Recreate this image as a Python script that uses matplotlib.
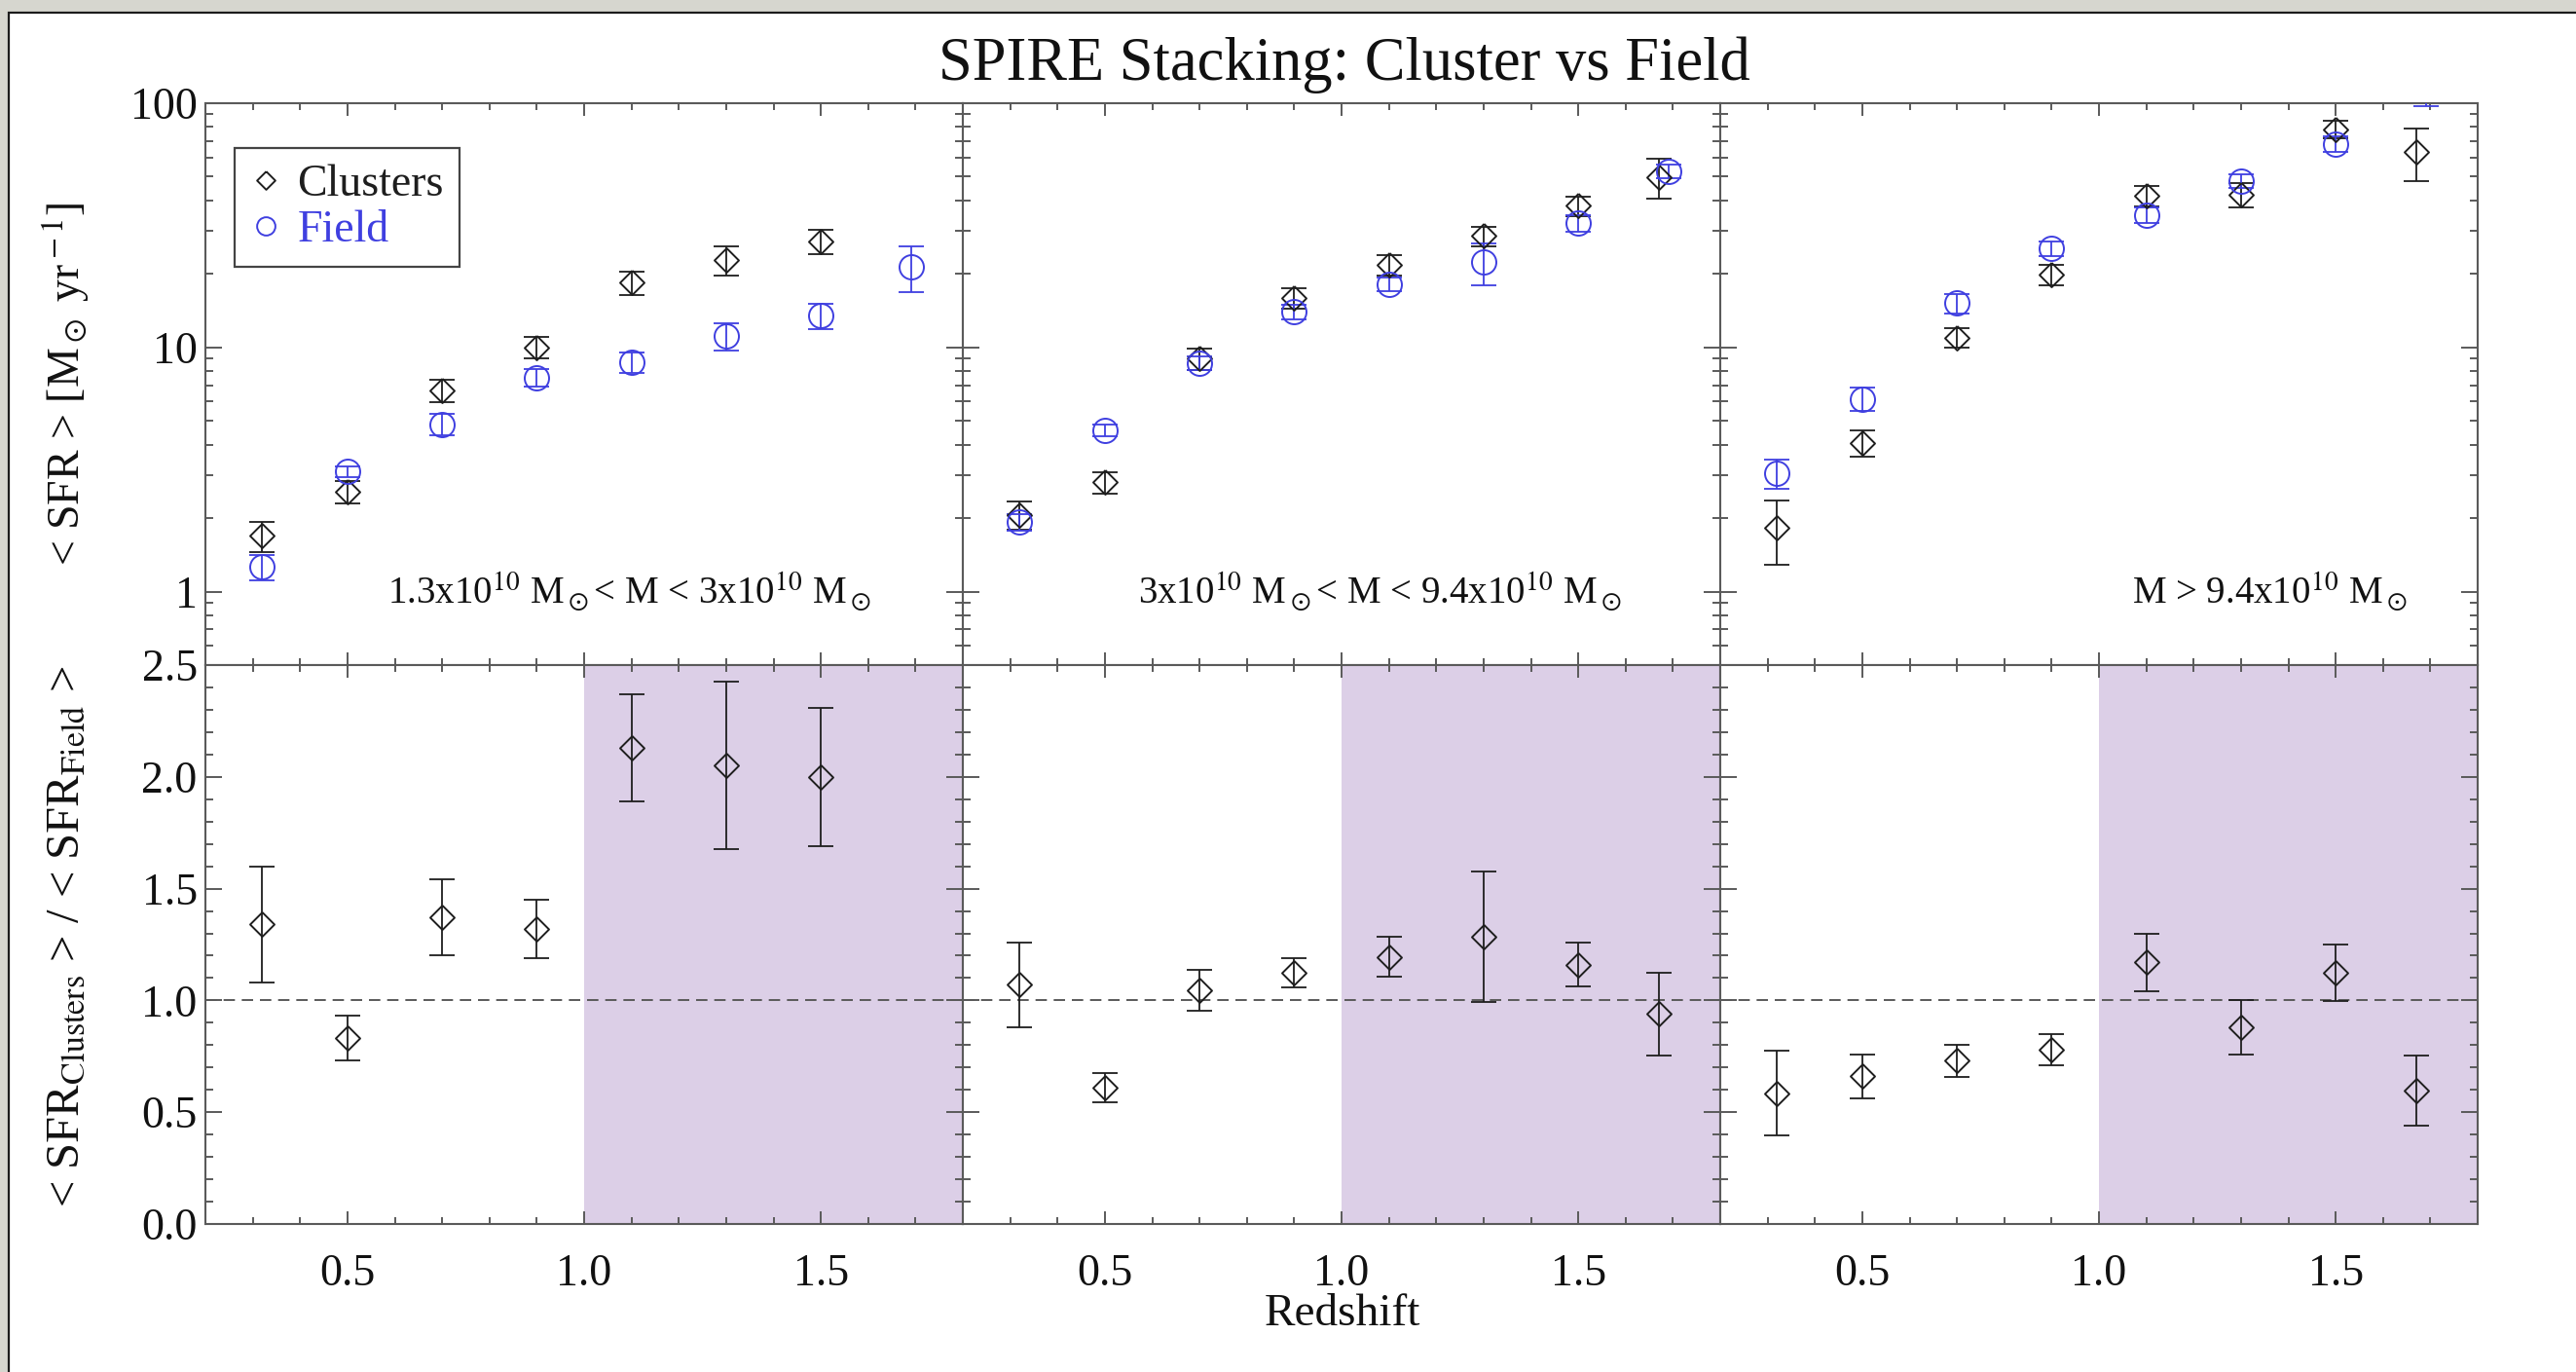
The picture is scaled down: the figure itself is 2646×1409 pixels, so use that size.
import numpy as np
import matplotlib
matplotlib.use("Agg")
import matplotlib.pyplot as plt
from matplotlib.patches import Rectangle
from matplotlib.ticker import FixedLocator, FixedFormatter, MultipleLocator, FormatStrFormatter, NullFormatter

plt.rcParams['font.family'] = ['Liberation Serif', 'DejaVu Serif']
plt.rcParams['mathtext.fontset'] = 'stix'

nan = float('nan')

# ---------------- data ----------------
z_clusters = [0.32, 0.50, 0.70, 0.90, 1.10, 1.30, 1.50, 1.67]
z_field = [0.32, 0.50, 0.70, 0.90, 1.10, 1.30, 1.50, 1.69]

mass_bins = [r'1.3x10$^{10}$ M$_\odot$< M < 3x10$^{10}$ M$_\odot$',
             r'3x10$^{10}$ M$_\odot$< M < 9.4x10$^{10}$ M$_\odot$',
             r'M > 9.4x10$^{10}$ M$_\odot$']

sfr_clusters_low = [1.69, 2.57, 6.66, 10.0, 18.4, 22.8, 27.2, nan]
err_clusters_low = [0.24, 0.27, 0.70, 1.0, 2.0, 3.2, 3.0, nan]
sfr_field_low = [1.26, 3.10, 4.85, 7.54, 8.71, 11.1, 13.5, 21.4]
err_field_low = [0.15, 0.16, 0.47, 0.60, 0.85, 1.4, 1.6, 4.6]

sfr_clusters_mid = [2.06, 2.80, 9.0, 15.9, 21.8, 28.6, 38.0, 49.9]
err_clusters_mid = [0.27, 0.29, 0.9, 1.5, 2.1, 2.6, 3.5, 9.1]
sfr_field_mid = [1.92, 4.57, 8.6, 14.0, 18.2, 22.3, 32.2, 52.6]
err_field_mid = [0.15, 0.24, 0.55, 1.0, 1.15, 4.4, 2.5, 3.5]

sfr_clusters_high = [1.82, 4.06, 10.96, 19.9, 41.8, 42.2, 78.4, 63.4]
err_clusters_high = [0.53, 0.50, 1.0, 1.9, 4.0, 4.9, 6.6, 15.4]
sfr_field_high = [3.06, 6.16, 15.2, 25.5, 34.8, 48.1, 68.1, 118.0]
err_field_high = [0.42, 0.67, 1.4, 1.75, 2.5, 3.0, 4.9, 21.0]

ratio_low = [1.34, 0.83, 1.37, 1.32, 2.13, 2.05, 2.00, nan]
ratio_err_low = [0.26, 0.10, 0.17, 0.13, 0.24, 0.375, 0.31, nan]
ratio_mid = [1.07, 0.61, 1.045, 1.125, 1.195, 1.285, 1.16, 0.94]
ratio_err_mid = [0.19, 0.067, 0.09, 0.065, 0.088, 0.29, 0.098, 0.185]
ratio_high = [0.585, 0.66, 0.73, 0.78, 1.17, 0.88, 1.125, 0.595]
ratio_err_high = [0.19, 0.10, 0.073, 0.071, 0.129, 0.12, 0.127, 0.157]

top_yticks = [1, 10, 100]
top_yticklabels = ['1', '10', '100']
bottom_yticks = [0.0, 0.5, 1.0, 1.5, 2.0, 2.5]
x_ticks = [0.5, 1.0, 1.5]

clusters_sfr = [sfr_clusters_low, sfr_clusters_mid, sfr_clusters_high]
clusters_err = [err_clusters_low, err_clusters_mid, err_clusters_high]
field_sfr = [sfr_field_low, sfr_field_mid, sfr_field_high]
field_err = [err_field_low, err_field_mid, err_field_high]
ratios = [ratio_low, ratio_mid, ratio_high]
ratio_errs = [ratio_err_low, ratio_err_mid, ratio_err_high]

# ---------------- style ----------------
W, H = 2646, 1409
fig = plt.figure(figsize=(W / 100, H / 100), dpi=100)
fig.patch.set_facecolor('#d6d6cf')
fig.patches.append(Rectangle((9 / W, -0.02), 1.05, 1 - 13 / H + 0.02, transform=fig.transFigure,
                             facecolor='white', edgecolor='#1c1c1c', lw=1.6, zorder=-10))

BLACK = '#1e1e1e'
BLUE = '#3f3fe0'
SPINE = '#5a5a5a'
SHADE = '#dccfe7'
diamond = [(0, 1), (1, 0), (0, -1), (-1, 0), (0, 1)]

x0, x1 = 211, 2545
pw = (x1 - x0) / 3
top_t, mid_y, bot_b = 106, 683, 1257

def style_axis(ax):
    for s in ax.spines.values():
        s.set_color(SPINE)
        s.set_linewidth(1.5)
    ax.tick_params(which='both', direction='in', top=True, right=True, color=SPINE, width=1.4,
                   labelsize=33, labelcolor='#111111')
    ax.set_xlim(0.2, 1.8)
    ax.xaxis.set_major_locator(FixedLocator(x_ticks))
    ax.xaxis.set_minor_locator(MultipleLocator(0.1))

for i in range(3):
    left = (x0 + i * pw) / W
    axt = fig.add_axes([left, 1 - mid_y / H, pw / W, (mid_y - top_t) / H])
    axb = fig.add_axes([left, 1 - bot_b / H, pw / W, (bot_b - mid_y) / H])

    # ---- top: SFR vs redshift ----
    style_axis(axt)
    axt.set_yscale('log')
    axt.set_ylim(0.5, 100)
    axt.yaxis.set_major_locator(FixedLocator(top_yticks))
    axt.tick_params(axis='y', which='major', length=12)
    axt.tick_params(axis='y', which='minor', length=6)
    axt.tick_params(axis='x', which='major', length=9.5)
    axt.tick_params(axis='x', which='minor', length=5)
    axt.xaxis.set_major_formatter(NullFormatter())
    if i == 0:
        axt.yaxis.set_major_formatter(FixedFormatter(top_yticklabels))
        axt.tick_params(axis='y', which='major', pad=6)
    else:
        axt.yaxis.set_major_formatter(NullFormatter())
    axt.yaxis.set_minor_formatter(NullFormatter())

    axt.errorbar(z_clusters, clusters_sfr[i], yerr=clusters_err[i], fmt='none', ecolor=BLACK,
                 elinewidth=1.3, capsize=9.5, capthick=1.3, zorder=3)
    axt.plot(z_clusters, clusters_sfr[i], ls='none', color=BLACK, marker=diamond, ms=18, mfc='none',
             mec=BLACK, mew=1.4, zorder=4, label='Clusters')
    axt.errorbar(z_field, field_sfr[i], yerr=field_err[i], fmt='none', ecolor=BLUE,
                 elinewidth=1.3, capsize=9.5, capthick=1.3, zorder=3)
    axt.plot(z_field, field_sfr[i], ls='none', color=BLUE, marker='o', ms=18, mfc='none',
             mec=BLUE, mew=1.4, zorder=4, label='Field')

    if i == 0:
        leg = axt.legend(loc='upper left', bbox_to_anchor=(0.039, 0.92), fontsize=33,
                         markerscale=0.75, handlelength=0.7,
                         handletextpad=0.35, labelspacing=0.1, borderpad=0.35,
                         borderaxespad=0, fancybox=False, framealpha=1)
        for t, c in zip(leg.get_texts(), [BLACK, BLUE]):
            t.set_color(c)
        leg.get_frame().set_edgecolor('#444444')
        leg.get_frame().set_linewidth(1.6)

    txt_x = [0.559, 0.55, 0.725][i]
    axt.text(txt_x, 0.13, mass_bins[i], transform=axt.transAxes, ha='center', va='center',
             fontsize=28, color='#111111')

    # ---- bottom: ratio ----
    style_axis(axb)
    axb.set_ylim(0.0, 2.5)
    axb.yaxis.set_major_locator(FixedLocator(bottom_yticks))
    axb.yaxis.set_minor_locator(MultipleLocator(0.1))
    axb.tick_params(axis='y', which='major', length=12)
    axb.tick_params(axis='y', which='minor', length=6)
    axb.tick_params(axis='x', which='major', length=9.5, pad=22)
    axb.tick_params(axis='x', which='minor', length=5)
    axb.xaxis.set_major_formatter(FormatStrFormatter('%.1f'))
    if i == 0:
        axb.yaxis.set_major_formatter(FormatStrFormatter('%.1f'))
        axb.tick_params(axis='y', which='major', pad=6)
    else:
        axb.yaxis.set_major_formatter(NullFormatter())

    axb.axvspan(1.0, 1.8, facecolor=SHADE, edgecolor='none', zorder=0)
    axb.axhline(1.0, color='#5a5a5a', lw=1.4, ls=(0, (6, 3.6)), zorder=1)
    axb.errorbar(z_clusters, ratios[i], yerr=ratio_errs[i], fmt='none', ecolor=BLACK,
                 elinewidth=1.3, capsize=9.5, capthick=1.3, zorder=3)
    axb.plot(z_clusters, ratios[i], ls='none', marker=diamond, ms=18, mfc='none',
             mec=BLACK, mew=1.4, zorder=4)

fig.text(0.522, 1 - 67 / H, 'SPIRE Stacking: Cluster vs Field', ha='center', va='center',
         fontsize=45, color='#111111')
fig.text(0.521, 1 - 1350 / H, 'Redshift', ha='center', va='center', fontsize=34, color='#111111')
fig.text(68 / W, 1 - 394.5 / H, r'< SFR > [M$_\odot$ yr$^{\rm -1}$]', rotation=90,
         ha='center', va='center', fontsize=33, color='#111111')
fig.text(68 / W, 1 - 962 / H, r'< SFR$_{\rm Clusters}$ > / < SFR$_{\rm Field}$ >', rotation=90,
         ha='center', va='center', fontsize=35, color='#111111')

fig.savefig('out.png', dpi=100, facecolor=fig.get_facecolor())
